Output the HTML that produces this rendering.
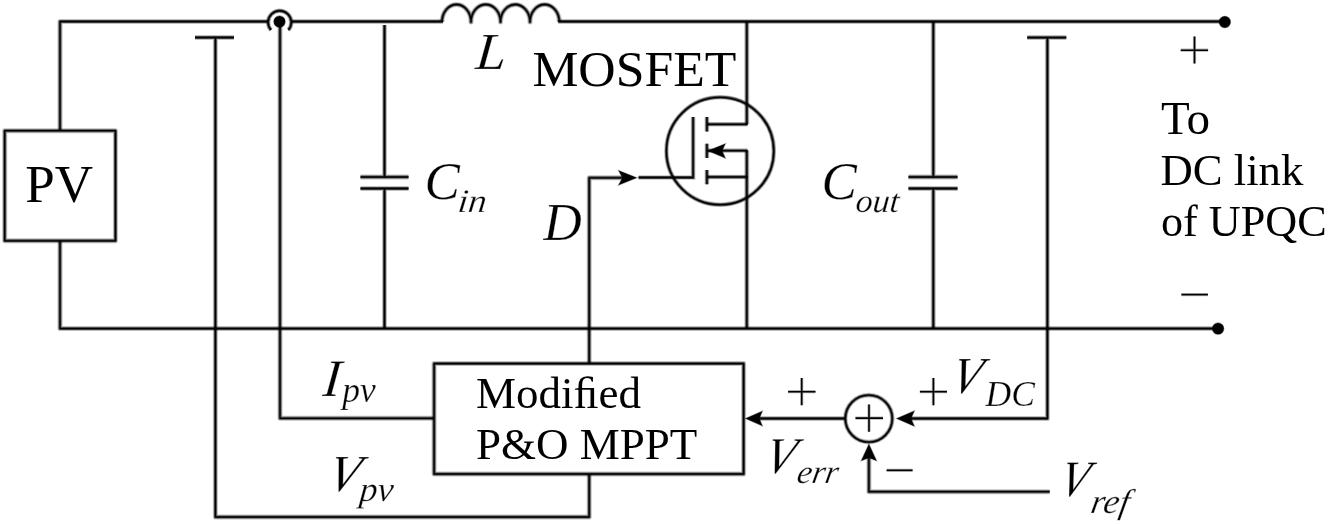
<!DOCTYPE html>
<html><head><meta charset="utf-8">
<style>
html,body{margin:0;padding:0;background:#fff;width:1328px;height:525px;overflow:hidden}
svg{display:block;will-change:transform}
text{font-family:"Liberation Serif",serif;fill:#000}
.i{font-style:italic;stroke:#fff;stroke-opacity:0.45;stroke-width:0.7px}
</style></head><body>
<svg width="1328" height="525" viewBox="0 0 1328 525">
<g stroke-linecap="butt" stroke-linejoin="round" fill="none" stroke="#000" stroke-opacity="0.25" stroke-width="5">
  <path d="M60 130.7 V21.5 H268 M291.3 21.5 H443 M558.3 21.5 H1225"/>
  <path d="M60 240.8 V328.6 H1218"/>
  <rect x="4.7" y="130.7" width="110.75" height="110.1"/>
  <path d="M195 37.5 H234 M215.4 37.5 V517 H589.2 V474"/>
  <path d="M280 22 V418.3 H434"/>
  <path d="M384.5 25 V177 M384.5 188.5 V328.6 M360.5 177 H408.5 M360.5 188.5 H408.5"/>
  <path d="M442 22 A14.5 17.5 0 0 1 471 22 A14.75 17.5 0 0 1 500.5 22 A14.75 17.5 0 0 1 530 22 A14.65 17.5 0 0 1 559.3 22"/>
  <path d="M933.3 22 V177 M933.3 188.5 V328.6 M908.5 177 H957.5 M908.5 188.5 H957.5"/>
  <path d="M746.8 22 V124.3 M746.8 150.6 V328.6"/>
  <path d="M589.2 363.6 V177.8 H625"/>
  <rect x="434.1" y="363.6" width="309.5" height="110.4"/>
  <path d="M844.6 418.5 H755"/>
  <path d="M1047.4 37.6 V418.5 H905 M1027.2 37.6 H1066.3"/>
  <path d="M1049.7 491.7 H868.9 V455"/>
</g>
<g stroke-linecap="butt" stroke-linejoin="round" fill="none" stroke="#000" stroke-opacity="0.6" stroke-width="3">
  <path d="M60 130.7 V21.5 H268 M291.3 21.5 H443 M558.3 21.5 H1225"/>
  <path d="M60 240.8 V328.6 H1218"/>
  <rect x="4.7" y="130.7" width="110.75" height="110.1"/>
  <path d="M195 37.5 H234 M215.4 37.5 V517 H589.2 V474"/>
  <path d="M280 22 V418.3 H434"/>
  <path d="M384.5 25 V177 M384.5 188.5 V328.6 M360.5 177 H408.5 M360.5 188.5 H408.5"/>
  <path d="M442 22 A14.5 17.5 0 0 1 471 22 A14.75 17.5 0 0 1 500.5 22 A14.75 17.5 0 0 1 530 22 A14.65 17.5 0 0 1 559.3 22"/>
  <path d="M933.3 22 V177 M933.3 188.5 V328.6 M908.5 177 H957.5 M908.5 188.5 H957.5"/>
  <path d="M746.8 22 V124.3 M746.8 150.6 V328.6"/>
  <path d="M589.2 363.6 V177.8 H625"/>
  <rect x="434.1" y="363.6" width="309.5" height="110.4"/>
  <path d="M844.6 418.5 H755"/>
  <path d="M1047.4 37.6 V418.5 H905 M1027.2 37.6 H1066.3"/>
  <path d="M1049.7 491.7 H868.9 V455"/>
</g>
<g stroke-linecap="butt" stroke-linejoin="round" fill="none" stroke="#000" stroke-width="1.3">
  <path d="M60 130.7 V21.5 H268 M291.3 21.5 H443 M558.3 21.5 H1225"/>
  <path d="M60 240.8 V328.6 H1218"/>
  <rect x="4.7" y="130.7" width="110.75" height="110.1"/>
  <path d="M195 37.5 H234 M215.4 37.5 V517 H589.2 V474"/>
  <path d="M280 22 V418.3 H434"/>
  <path d="M384.5 25 V177 M384.5 188.5 V328.6 M360.5 177 H408.5 M360.5 188.5 H408.5"/>
  <path d="M442 22 A14.5 17.5 0 0 1 471 22 A14.75 17.5 0 0 1 500.5 22 A14.75 17.5 0 0 1 530 22 A14.65 17.5 0 0 1 559.3 22"/>
  <path d="M933.3 22 V177 M933.3 188.5 V328.6 M908.5 177 H957.5 M908.5 188.5 H957.5"/>
  <path d="M746.8 22 V124.3 M746.8 150.6 V328.6"/>
  <path d="M589.2 363.6 V177.8 H625"/>
  <rect x="434.1" y="363.6" width="309.5" height="110.4"/>
  <path d="M844.6 418.5 H755"/>
  <path d="M1047.4 37.6 V418.5 H905 M1027.2 37.6 H1066.3"/>
  <path d="M1049.7 491.7 H868.9 V455"/>
</g>

<g fill="#000" stroke="#000" stroke-opacity="0.4" stroke-width="1.2">
  <circle cx="279.5" cy="21.6" r="5.7"/>
  <circle cx="1224.8" cy="22" r="5.7"/>
  <circle cx="1218.1" cy="328.6" r="5.7"/>
  <!-- arrows -->
  <path d="M708 150.7 L725.3 143.8 L722 150.7 L725.3 158.1 Z"/>
  <path d="M636.7 177.8 L618.6 170.6 L622.6 177.8 L618.6 185 Z"/>
  <path d="M745.6 418.5 L762.3 411.2 L759.3 418.5 L762.3 425.8 Z"/>
  <path d="M896.7 418.5 L914.3 411 L911 418.5 L914.3 426.2 Z"/>
  <path d="M868.9 444.3 L861.3 460.7 L868.9 457.8 L876.5 460.7 Z"/>
</g>
<g fill="none" stroke="#000" stroke-opacity="0.25" stroke-width="4.6"><circle cx="720.1" cy="151" r="53.7"/><circle cx="868.8" cy="418.6" r="23.5"/><path d="M271 30 A11.6 11.6 0 1 1 288.4 30"/><path d="M747.5 124.3 H706.9 M706.9 150.6 H747.5 M706.9 177 H747.5"/><path d="M706.9 117 V131.6 M706.9 143.7 V157.9 M706.9 170 V184.2"/><path d="M693.1 117 V177.5 H638.6"/>
</g>
<g fill="none" stroke="#000" stroke-opacity="0.6" stroke-width="2.9"><circle cx="720.1" cy="151" r="53.7"/><circle cx="868.8" cy="418.6" r="23.5"/><path d="M271 30 A11.6 11.6 0 1 1 288.4 30"/><path d="M747.5 124.3 H706.9 M706.9 150.6 H747.5 M706.9 177 H747.5"/><path d="M706.9 117 V131.6 M706.9 143.7 V157.9 M706.9 170 V184.2"/><path d="M693.1 117 V177.5 H638.6"/>
</g>
<g fill="none" stroke="#000" stroke-width="1.3"><circle cx="720.1" cy="151" r="53.7"/><circle cx="868.8" cy="418.6" r="23.5"/><path d="M271 30 A11.6 11.6 0 1 1 288.4 30"/><path d="M747.5 124.3 H706.9 M706.9 150.6 H747.5 M706.9 177 H747.5"/><path d="M706.9 117 V131.6 M706.9 143.7 V157.9 M706.9 170 V184.2"/><path d="M693.1 117 V177.5 H638.6"/>
</g>
<g fill="none" stroke="#000" stroke-opacity="0.3" stroke-width="3.2">
  <path d="M1180.7 50.2 H1208.1 M1194.5 36.5 V63.5"/>
  <path d="M1181.4 294.6 H1207.9"/>
  <path d="M788.1 391.7 H815.5 M801.7 378.1 V405.3"/>
  <path d="M919.9 391.7 H947 M933.4 378.1 V405.3"/>
  <path d="M886.6 470.3 H912.6"/>
  <path d="M855.5 418.1 H883 M869 404.6 V431.7"/>
</g>
<g fill="none" stroke="#000" stroke-width="1.6">
  <path d="M1180.7 50.2 H1208.1 M1194.5 36.5 V63.5"/>
  <path d="M1181.4 294.6 H1207.9"/>
  <path d="M788.1 391.7 H815.5 M801.7 378.1 V405.3"/>
  <path d="M919.9 391.7 H947 M933.4 378.1 V405.3"/>
  <path d="M886.6 470.3 H912.6"/>
  <path d="M855.5 418.1 H883 M869 404.6 V431.7"/>
</g>

<text x="25.2" y="201.8" font-size="53">PV</text>
<text class="i" transform="translate(474.8 68.7) skewX(-5) scale(1.05 1)" font-size="52">L</text>
<text x="532.4" y="86.3" font-size="51.7">MOSFET</text>
<text class="i" x="543.4" y="239.5" font-size="53">D</text>
<text class="i" x="424.4" y="198.5" font-size="53">C</text>
<text class="i" transform="translate(457 211.5) skewX(-6) scale(1.12 1)" font-size="33">in</text>
<text class="i" x="821.4" y="198.5" font-size="53">C</text>
<text class="i" transform="translate(855 211.9) skewX(-5) scale(1.03 1)" font-size="33">out</text>
<text x="1161" y="134" font-size="47">To</text>
<text x="1160.5" y="185.3" font-size="44.7">DC link</text>
<text transform="translate(1161 235.8) scale(0.982 1)" font-size="45">of UPQC</text>
<text class="i" transform="translate(322 395.5) skewX(-5.5)" font-size="52.7">I</text>
<text class="i" x="342.2" y="401.5" font-size="35.5">pv</text>
<text class="i" transform="translate(325.4 491.4) skewX(-13) scale(0.97 1)" font-size="52">V</text>
<text class="i" transform="translate(358.8 500.5) skewX(-5) scale(1.03 1)" font-size="35">pv</text>
<text x="476" y="407.5" font-size="45">Modi&#xFB01;ed</text>
<text x="476" y="458.5" font-size="45">P&amp;O MPPT</text>
<text class="i" transform="translate(948.8 393.2) skewX(-13) scale(0.92 1)" font-size="52">V</text>
<text class="i" x="985.6" y="405.9" font-size="35.5">DC</text>
<text class="i" transform="translate(762.3 472.6) skewX(-13) scale(0.94 1)" font-size="51.6">V</text>
<text class="i" transform="translate(795.8 482.8) skewX(-10) scale(1.02 1)" font-size="33">err</text>
<text class="i" transform="translate(1057.3 495.6) skewX(-13) scale(0.9 1)" font-size="51">V</text>
<text class="i" transform="translate(1089.5 513.3) skewX(-10) scale(1.04 1)" font-size="34.3">ref</text>
</svg>
</body></html>
